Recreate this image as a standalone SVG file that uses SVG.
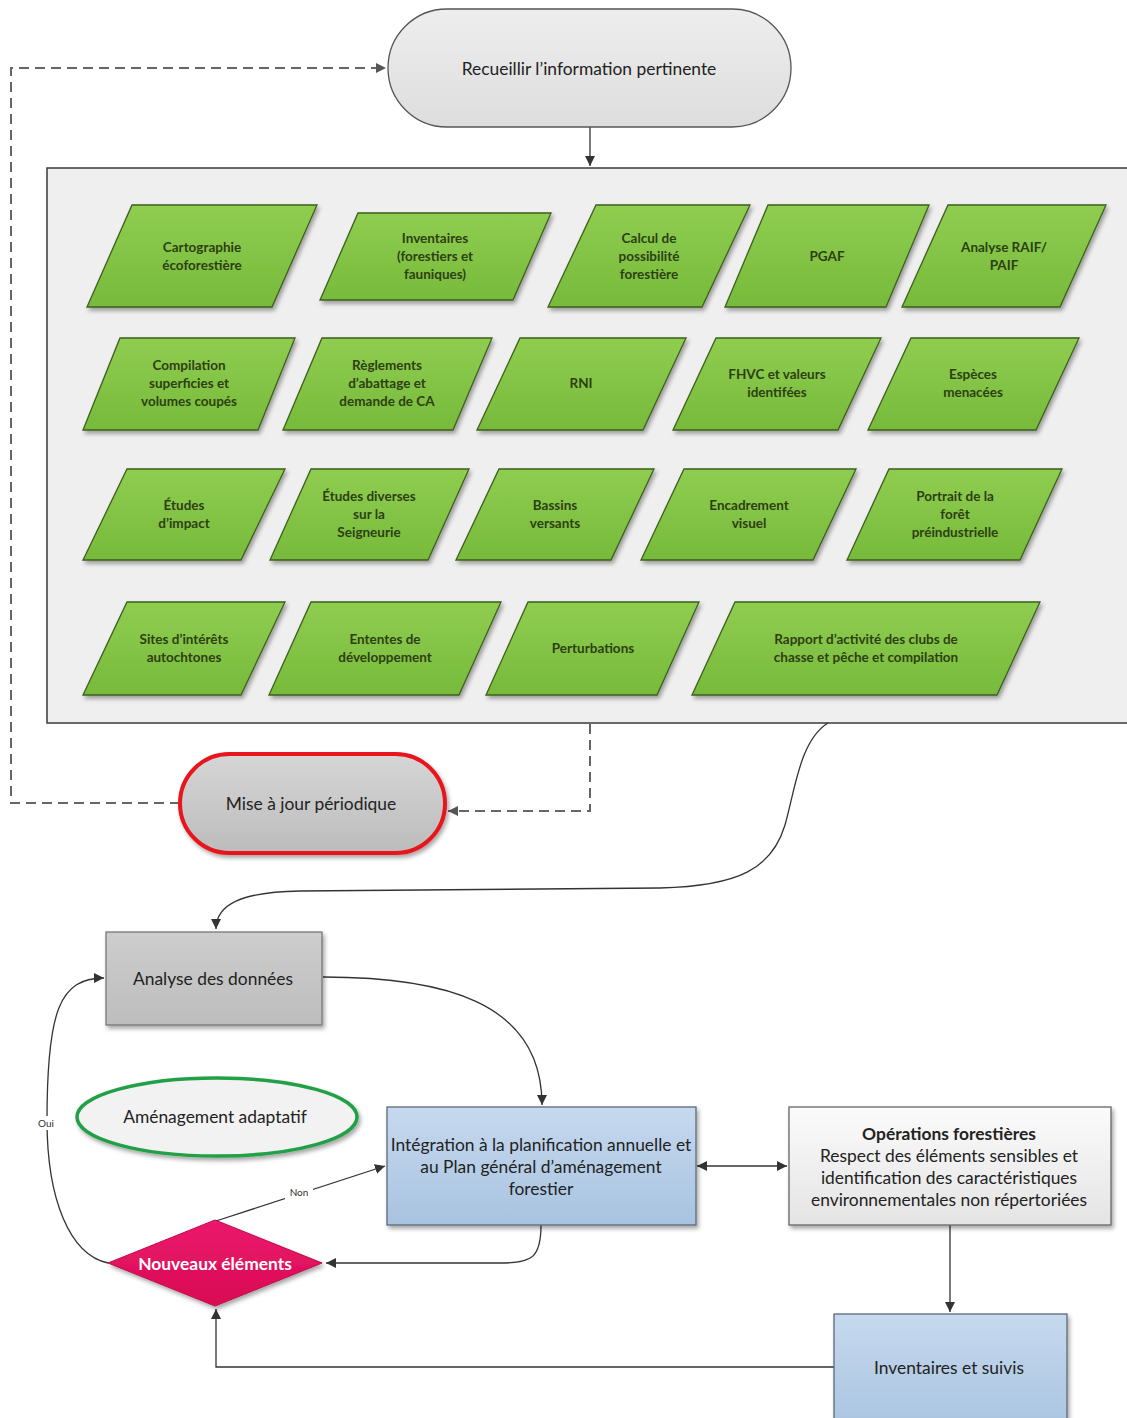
<svg xmlns="http://www.w3.org/2000/svg" width="1127" height="1418" viewBox="0 0 1127 1418">
<style>
.para{fill:url(#gGreen);stroke:#3d5f1c;stroke-width:1.3;filter:url(#sh)}
.pt{font-family:Lato,"Open Sans",sans-serif;font-weight:bold;font-size:13.5px;fill:#2d3f12;text-anchor:middle;dominant-baseline:central}
.nt{font-family:Lato,"Open Sans",sans-serif;font-size:17.4px;fill:#222;text-anchor:middle;dominant-baseline:central}
.ln{fill:none;stroke:#333;stroke-width:1.3}
.dash{fill:none;stroke:#666;stroke-width:2;stroke-dasharray:10 6}
.lbl{font-family:Lato,"Open Sans",sans-serif;font-size:10px;fill:#333;text-anchor:middle;dominant-baseline:central}
</style>
<defs>
<linearGradient id="gGreen" x1="0" y1="0" x2="0" y2="1"><stop offset="0" stop-color="#8fcd50"/><stop offset="1" stop-color="#77ba3b"/></linearGradient>
<linearGradient id="gBlue" x1="0" y1="0" x2="0" y2="1"><stop offset="0" stop-color="#c6d9ee"/><stop offset="1" stop-color="#a8c3e0"/></linearGradient>
<linearGradient id="gPill" x1="0" y1="0" x2="0" y2="1"><stop offset="0" stop-color="#eeeeee"/><stop offset="1" stop-color="#dddddd"/></linearGradient>
<linearGradient id="gMaj" x1="0" y1="0" x2="0" y2="1"><stop offset="0" stop-color="#d6d6d6"/><stop offset="1" stop-color="#bcbcbc"/></linearGradient>
<linearGradient id="gAn" x1="0" y1="0" x2="0" y2="1"><stop offset="0" stop-color="#cdcdcd"/><stop offset="1" stop-color="#bdbdbd"/></linearGradient>
<linearGradient id="gOp" x1="0" y1="0" x2="0" y2="1"><stop offset="0" stop-color="#fbfbfb"/><stop offset="1" stop-color="#e4e4e4"/></linearGradient>
<linearGradient id="gDia" x1="0" y1="0" x2="0" y2="1"><stop offset="0" stop-color="#ec1a6e"/><stop offset="1" stop-color="#d80a52"/></linearGradient>
<filter id="sh" x="-10%" y="-10%" width="130%" height="140%"><feDropShadow dx="2" dy="3" stdDeviation="2" flood-color="#000" flood-opacity="0.35"/></filter>
<marker id="ar" viewBox="0 0 10 10" refX="10" refY="5" markerWidth="10" markerHeight="10" markerUnits="userSpaceOnUse" orient="auto-start-reverse"><path d="M0,0 L10,5 L0,10 z" fill="#333"/></marker>
<marker id="ard" viewBox="0 0 10 10" refX="10" refY="5" markerWidth="10" markerHeight="10" markerUnits="userSpaceOnUse" orient="auto"><path d="M0,0 L10,5 L0,10 z" fill="#555"/></marker>
</defs>
<rect width="1127" height="1418" fill="#ffffff"/>

<g id="container">
<rect x="47" y="168" width="1095" height="555" fill="#efefef" stroke="#3a3a3a" stroke-width="1.5"/>
</g>

<g id="connectors">
<path class="ln" d="M590,127 L590,166" marker-end="url(#ar)"/>
<path class="dash" d="M590,724 L590,811 L448,811" marker-end="url(#ard)"/>
<path class="dash" d="M180,803 L11,803 L11,68 L386,68" marker-end="url(#ard)"/>
<path class="ln" d="M828,723 C800,740 795,790 785,825 C772,868 740,886 660,888 L300,891 C240,892 216,905 216,929" marker-end="url(#ar)"/>
<path class="ln" d="M323,977 C440,977 542,1000 542,1105" marker-end="url(#ar)"/>
<path class="ln" d="M697,1166 L787,1166" marker-start="url(#ar)" marker-end="url(#ar)"/>
<path class="ln" d="M950,1225 L950,1312" marker-end="url(#ar)"/>
<path class="ln" d="M834,1367 L216,1367 L216,1309" marker-end="url(#ar)"/>
<path class="ln" d="M541,1225 C541,1258 532,1263 500,1263 L326,1263" marker-end="url(#ar)"/>
<path class="ln" d="M216,1221 L385,1166" marker-end="url(#ar)"/>
<path class="ln" d="M108,1263 C70,1255 47,1200 47,1120 C47,1010 60,978 104,978" marker-end="url(#ar)"/>
<rect x="285" y="1185" width="28" height="14" fill="#ffffff"/>
<text class="lbl" x="299" y="1192" font-size="11">Non</text>
<rect x="35" y="1116" width="22" height="14" fill="#ffffff"/>
<text class="lbl" x="46" y="1123">Oui</text>
</g>

<g id="n-recueillir">
<rect x="388" y="9" width="403" height="118" rx="59" ry="59" fill="url(#gPill)" stroke="#555" stroke-width="1.3"/>
<text class="nt" x="589" y="68" font-size="16.5">Recueillir l’information pertinente</text>
</g>

<g id="n-cartographie"><polygon class="para" points="132,205 317,205 272,307 87,307"/><text class="pt" x="202" y="247">Cartographie</text><text class="pt" x="202" y="265">écoforestière</text></g>
<g id="n-inventaires"><polygon class="para" points="358,213 551,213 513,300 320,300"/><text class="pt" x="435" y="238">Inventaires</text><text class="pt" x="435" y="256">(forestiers et</text><text class="pt" x="435" y="274">fauniques)</text></g>
<g id="n-calcul"><polygon class="para" points="596,205 750,205 702,307 548,307"/><text class="pt" x="649" y="238">Calcul de</text><text class="pt" x="649" y="256">possibilité</text><text class="pt" x="649" y="274">forestière</text></g>
<g id="n-pgaf"><polygon class="para" points="768,205 929,205 886,307 725,307"/><text class="pt" x="827" y="256">PGAF</text></g>
<g id="n-raif"><polygon class="para" points="948,205 1106,205 1060,307 902,307"/><text class="pt" x="1004" y="247">Analyse RAIF/</text><text class="pt" x="1004" y="265">PAIF</text></g>

<g id="n-compilation"><polygon class="para" points="120,338 295,338 258,430 83,430"/><text class="pt" x="189" y="365">Compilation</text><text class="pt" x="189" y="383">superficies et</text><text class="pt" x="189" y="401">volumes coupés</text></g>
<g id="n-reglements"><polygon class="para" points="322,338 492,338 453,430 283,430"/><text class="pt" x="387" y="365">Règlements</text><text class="pt" x="387" y="383">d’abattage et</text><text class="pt" x="387" y="401">demande  de CA</text></g>
<g id="n-rni"><polygon class="para" points="520,338 686,338 643,430 477,430"/><text class="pt" x="581" y="383">RNI</text></g>
<g id="n-fhvc"><polygon class="para" points="716,338 881,338 838,430 673,430"/><text class="pt" x="777" y="374">FHVC et valeurs</text><text class="pt" x="777" y="392">identifées</text></g>
<g id="n-especes"><polygon class="para" points="911,338 1079,338 1036,430 868,430"/><text class="pt" x="973" y="374">Espèces</text><text class="pt" x="973" y="392">menacées</text></g>

<g id="n-etudes-impact"><polygon class="para" points="127,469 285,469 241,560 83,560"/><text class="pt" x="184" y="505">Études</text><text class="pt" x="184" y="523">d’impact</text></g>
<g id="n-etudes-diverses"><polygon class="para" points="311,469 469,469 428,560 270,560"/><text class="pt" x="369" y="496">Études diverses</text><text class="pt" x="369" y="514">sur la</text><text class="pt" x="369" y="532">Seigneurie</text></g>
<g id="n-bassins"><polygon class="para" points="499,469 654,469 611,560 456,560"/><text class="pt" x="555" y="505">Bassins</text><text class="pt" x="555" y="523">versants</text></g>
<g id="n-encadrement"><polygon class="para" points="684,469 856,469 813,560 641,560"/><text class="pt" x="749" y="505">Encadrement</text><text class="pt" x="749" y="523">visuel</text></g>
<g id="n-portrait"><polygon class="para" points="889,469 1062,469 1020,560 847,560"/><text class="pt" x="955" y="496">Portrait de la</text><text class="pt" x="955" y="514">forêt</text><text class="pt" x="955" y="532">préindustrielle</text></g>

<g id="n-sites"><polygon class="para" points="127,602 285,602 241,695 83,695"/><text class="pt" x="184" y="639">Sites d’intérêts</text><text class="pt" x="184" y="657">autochtones</text></g>
<g id="n-ententes"><polygon class="para" points="311,602 501,602 459,695 269,695"/><text class="pt" x="385" y="639">Ententes de</text><text class="pt" x="385" y="657">développement</text></g>
<g id="n-perturbations"><polygon class="para" points="528,602 699,602 657,695 486,695"/><text class="pt" x="593" y="648">Perturbations</text></g>
<g id="n-rapport"><polygon class="para" points="735,602 1040,602 997,695 692,695"/><text class="pt" x="866" y="639">Rapport d’activité des clubs de</text><text class="pt" x="866" y="657">chasse et pêche et compilation</text></g>

<g id="n-maj">
<rect x="180" y="754" width="265" height="99" rx="49.5" ry="49.5" fill="url(#gMaj)" stroke="#e8141c" stroke-width="4" filter="url(#sh)"/>
<text class="nt" x="311" y="803" font-size="17.5">Mise à jour périodique</text>
</g>

<g id="n-analyse">
<rect x="106" y="932" width="216" height="93" fill="url(#gAn)" stroke="#777" stroke-width="1.3" filter="url(#sh)"/>
<text class="nt" x="213" y="978" font-size="18">Analyse des données</text>
</g>

<g id="n-amenagement">
<ellipse cx="217" cy="1117" rx="140" ry="39" fill="#f2f2f2" stroke="#24a047" stroke-width="3.5" filter="url(#sh)"/>
<text class="nt" x="215" y="1116" font-size="18.5">Aménagement adaptatif</text>
</g>

<g id="n-integration">
<rect x="387" y="1107" width="309" height="118" fill="url(#gBlue)" stroke="#5a6a7a" stroke-width="1.3" filter="url(#sh)"/>
<text class="nt" x="541" y="1144">Intégration à la planification annuelle et</text>
<text class="nt" x="541" y="1166">au Plan général d’aménagement</text>
<text class="nt" x="541" y="1188">forestier</text>
</g>

<g id="n-operations">
<rect x="789" y="1107" width="322" height="118" fill="url(#gOp)" stroke="#666" stroke-width="1.3" filter="url(#sh)"/>
<text class="nt" x="949" y="1133" font-weight="bold">Opérations forestières</text>
<text class="nt" x="949" y="1155">Respect des éléments sensibles et</text>
<text class="nt" x="949" y="1177">identification des caractéristiques</text>
<text class="nt" x="949" y="1199">environnementales non répertoriées</text>
</g>

<g id="n-inventaires-suivis">
<rect x="834" y="1314" width="233" height="120" fill="url(#gBlue)" stroke="#5a6a7a" stroke-width="1.3" filter="url(#sh)"/>
<text class="nt" x="949" y="1367" font-size="17">Inventaires et suivis</text>
</g>

<g id="n-nouveaux">
<polygon points="215,1220 322,1263 215,1306 108,1263" fill="url(#gDia)" stroke="#c00848" stroke-width="1" filter="url(#sh)"/>
<text class="nt" x="215" y="1263" font-weight="bold" style="fill:#fff">Nouveaux éléments</text>
</g>
</svg>
